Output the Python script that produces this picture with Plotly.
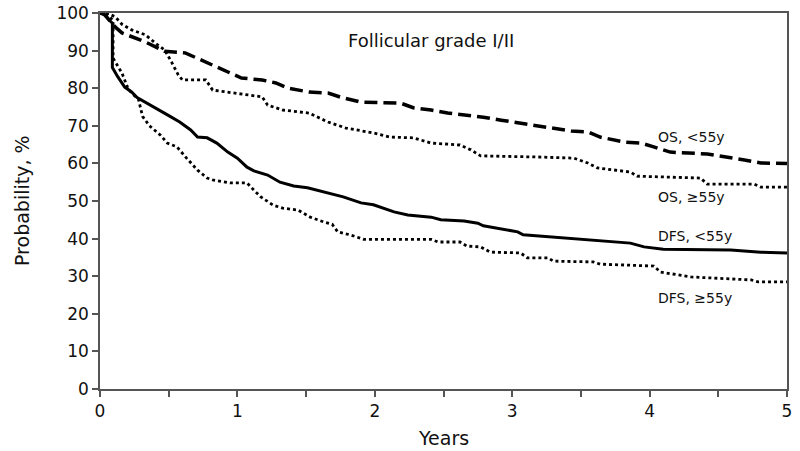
import plotly.graph_objects as go

# ---- data ----
os_young_t = [0, 0.036, 0.11, 0.16, 0.33, 0.40, 0.47, 0.62, 0.74, 0.86, 0.96, 1.03, 1.18, 1.28, 1.37,
              1.52, 1.66, 1.76, 1.90, 2.19, 2.28, 2.41, 2.53, 2.67, 2.79, 2.92, 3.06, 3.16, 3.30,
              3.43, 3.55, 3.64, 3.81, 3.94, 4.03, 4.15, 4.42, 4.57, 4.69, 4.81, 5.0]
os_young_p = [100, 99.5, 96.3, 94.7, 92.3, 91, 89.8, 89.4, 87.5, 85.6, 84, 82.7, 82.2, 81.4, 80,
              79, 78.7, 77.5, 76.3, 76, 74.8, 74.2, 73.4, 72.9, 72.3, 71.5, 70.7, 70.3, 69.4,
              68.6, 68.4, 67, 65.7, 65.4, 64.4, 63, 62.5, 61.7, 60.9, 60.1, 60]

os_old_t = [0, 0.05, 0.11, 0.16, 0.23, 0.33, 0.42, 0.47, 0.52, 0.57, 0.60, 0.77, 0.82, 0.98, 1.18,
            1.22, 1.33, 1.52, 1.66, 1.79, 1.86, 1.99, 2.11, 2.28, 2.41, 2.62, 2.70, 2.77, 3.19,
            3.45, 3.55, 3.62, 3.86, 3.91, 4.37, 4.42, 4.76, 4.81, 5.0]
os_old_p = [100, 100, 99, 97, 95.5, 94.2, 91.5, 90.2, 87, 83.5, 82.2, 82.2, 79.5, 78.7, 77.7,
            75.5, 74.2, 73.4, 71, 69.4, 68.9, 68.1, 67, 66.8, 65.4, 64.9, 63.6, 62, 61.7,
            61.4, 60.1, 58.8, 57.7, 56.6, 56.1, 54.5, 54.5, 53.7, 53.7]

dfs_young_t = [0, 0.02, 0.07, 0.09, 0.09, 0.13, 0.18, 0.23, 0.27, 0.33, 0.42, 0.51, 0.58, 0.66,
               0.71, 0.78, 0.85, 0.93, 1.00, 1.07, 1.12, 1.22, 1.31, 1.41, 1.51, 1.63, 1.77, 1.90,
               1.99, 2.14, 2.24, 2.41, 2.48, 2.65, 2.75, 2.79, 2.89, 3.04, 3.08, 3.28, 3.43, 3.64,
               3.86, 3.96, 4.10, 4.59, 4.81, 5.0]
dfs_young_p = [100, 100, 98, 97.3, 85.5, 83, 80.3, 79, 77.5, 76.3, 74.5, 72.5, 71, 68.9,
               67, 66.8, 65.4, 63, 61.4, 59, 58, 56.9, 55, 54, 53.5, 52.4, 51.1, 49.5,
               49, 47.1, 46.3, 45.7, 45, 44.7, 44.1, 43.4, 42.8, 41.8, 41, 40.4, 39.9, 39.4,
               38.8, 37.8, 37.2, 37, 36.4, 36.2]

dfs_old_t = [0, 0.04, 0.07, 0.095, 0.095, 0.11, 0.16, 0.20, 0.23, 0.28, 0.31, 0.36, 0.44, 0.49,
             0.56, 0.63, 0.71, 0.78, 0.82, 0.95, 1.07, 1.12, 1.17, 1.26, 1.33, 1.44, 1.53, 1.63,
             1.69, 1.73, 1.82, 1.92, 2.41, 2.46, 2.62, 2.67, 2.77, 2.84, 3.06, 3.11, 3.26, 3.30,
             3.59, 3.64, 4.03, 4.08, 4.30, 4.74, 4.79, 5.0]
dfs_old_p = [100, 100, 99, 98, 88, 87, 84, 80.3, 78.7, 77, 72.5, 70, 67.5, 65.4,
             64.4, 61.4, 58.2, 56.1, 55.6, 54.8, 54.8, 52.9, 51.1, 48.9, 48.1, 47.6, 45.7, 44.4,
             43.8, 41.8, 41, 39.8, 39.8, 39.1, 39.1, 38, 37.8, 36.4, 36.2, 34.9, 34.9, 34,
             33.8, 33.2, 32.7, 31.1, 29.8, 29, 28.5, 28.5]

series_labels = ["OS, <55y", "OS, ≥55y", "DFS, <55y", "DFS, ≥55y"]
label_x = [4.05, 4.05, 4.05, 4.05]
label_y = [67, 51, 40.7, 24.2]

x_tickvals = [0, 0.5, 1, 1.5, 2, 2.5, 3, 3.5, 4, 4.5, 5]
x_ticktext = ["0", "", "1", "", "2", "", "3", "", "4", "", "5"]
y_tickvals = [0, 10, 20, 30, 40, 50, 60, 70, 80, 90, 100]

title_text = "Follicular grade I/II"
x_title = "Years"
y_title = "Probability, %"

FONT = "DejaVu Sans, Verdana, sans-serif"
AX = "#555555"
TXT = "#111111"

fig = go.Figure()
fig.add_trace(go.Scatter(x=os_young_t, y=os_young_p, mode="lines",
                         line=dict(color="black", width=3.5, dash="13px,6px")))
fig.add_trace(go.Scatter(x=os_old_t, y=os_old_p, mode="lines",
                         line=dict(color="black", width=2.8, dash="3px,3px")))
fig.add_trace(go.Scatter(x=dfs_young_t, y=dfs_young_p, mode="lines",
                         line=dict(color="black", width=3)))
fig.add_trace(go.Scatter(x=dfs_old_t, y=dfs_old_p, mode="lines",
                         line=dict(color="black", width=2.8, dash="3px,3px")))

for txt, lx, ly in zip(series_labels, label_x, label_y):
    fig.add_annotation(x=lx, y=ly, text=txt, showarrow=False, xanchor="left", yanchor="middle",
                       font=dict(family=FONT, size=14, color=TXT))

fig.add_annotation(x=2.41, y=92.8, text=title_text, showarrow=False, xanchor="center",
                   yanchor="middle", font=dict(family=FONT, size=18, color=TXT))

# axis titles
fig.add_annotation(xref="paper", yref="paper", x=0, y=0.5, xshift=-78, text=y_title,
                   textangle=-90, showarrow=False, xanchor="center", yanchor="middle",
                   font=dict(family=FONT, size=19, color=TXT))
fig.add_annotation(xref="paper", yref="paper", x=0.5, y=0, yshift=-49, text=x_title,
                   showarrow=False, xanchor="center", yanchor="middle",
                   font=dict(family=FONT, size=19, color=TXT))

fig.update_layout(
    width=800, height=451,
    margin=dict(l=100, r=13, t=13, b=62, autoexpand=False),
    paper_bgcolor="white", plot_bgcolor="white",
    showlegend=False,
    font=dict(family=FONT, color=TXT),
    xaxis=dict(range=[0, 5], tickvals=x_tickvals, ticktext=x_ticktext, ticks="outside",
               ticklen=6, tickwidth=1.5, tickcolor=AX, showline=True, linecolor=AX,
               linewidth=1.5, mirror=True, showgrid=False, zeroline=False, automargin=False,
               ticklabeloverflow="allow",
               tickfont=dict(size=17, family=FONT, color=TXT)),
    yaxis=dict(range=[0, 100], tickvals=y_tickvals, ticks="outside", ticklen=6, tickwidth=1.5,
               tickcolor=AX, showline=True, linecolor=AX, linewidth=1.5, mirror=True,
               showgrid=False, zeroline=False, automargin=False,
               ticklabeloverflow="allow",
               tickfont=dict(size=17, family=FONT, color=TXT)),
)

# remove the browser's default 8px body margin so the 800x451 figure fills the window
fig.write_html("out.html", config={"displayModeBar": False},
               post_script="document.body.style.margin='0';document.body.style.overflow='hidden';")
